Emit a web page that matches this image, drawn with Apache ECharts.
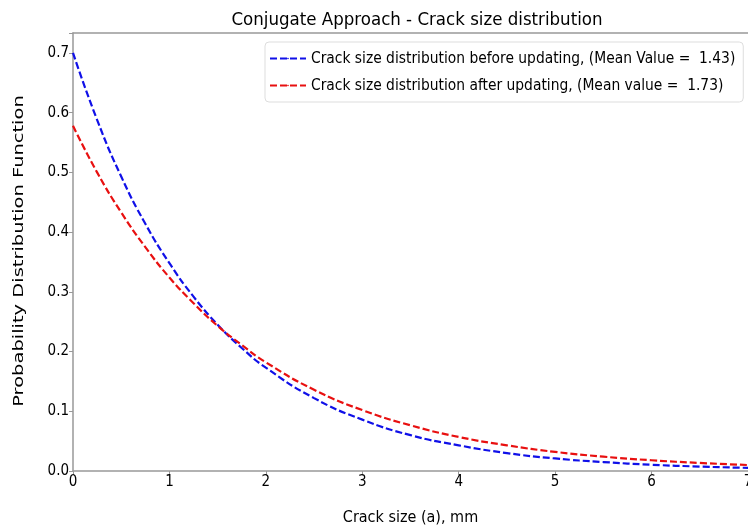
<!DOCTYPE html>
<html><head><meta charset="utf-8">
<script src="https://cdn.jsdelivr.net/npm/echarts@6/dist/echarts.min.js"></script>
<style>html,body{margin:0;padding:0;background:#fff}#c{width:748px;height:530px}</style>
</head><body><div id="c"></div>
<script>
const xValues = [0,0.25,0.5,0.75,1,1.25,1.5,1.75,2,2.5,3,3.5,4,4.5,5,5.5,6,6.5,7];
const beforeValues = [0.700,0.588,0.493,0.414,0.348,0.292,0.245,0.206,0.173,0.122,0.086,0.060,0.043,0.030,0.021,0.015,0.0105,0.0074,0.0052];
const afterValues  = [0.578,0.500,0.433,0.375,0.324,0.281,0.243,0.211,0.182,0.136,0.102,0.0765,0.057,0.043,0.032,0.024,0.018,0.0135,0.010];
const seriesNames = ['Crack size distribution before updating, (Mean Value =  1.43)','Crack size distribution after updating, (Mean value =  1.73)'];
const xTicks = [0,1,2,3,4,5,6,7];
const yTicks = [0.0,0.1,0.2,0.3,0.4,0.5,0.6,0.7];
const yTitle = 'Probability Distribution Function';
const FN = "'Liberation Sans Narrow','DejaVu Sans Condensed','Liberation Sans',sans-serif";
const chart = echarts.init(document.getElementById('c'));
const mk = arr => xValues.map((x,i)=>[x,arr[i]]);
chart.setOption({
  animation:false,
  title:{text:'Conjugate Approach - Crack size distribution',left:412,textAlign:'center',top:6,textStyle:{fontFamily:FN,fontSize:18.5,fontWeight:'normal',color:'#000'}},
  grid:{left:73,top:33,right:0,bottom:59,outerBoundsMode:'none',containLabel:false},
  legend:{orient:'vertical',left:265,top:42,itemWidth:36,itemHeight:2,itemGap:12,padding:[9,8,9,4],
    backgroundColor:'#fff',borderColor:'#ddd',borderWidth:1,borderRadius:4,
    textStyle:{fontFamily:FN,fontSize:15.4,color:'#000'},data:seriesNames},
  graphic:[{type:'text',x:19,y:251,rotation:Math.PI/2,scaleX:1.39,scaleY:1,
    style:{text:yTitle,font:"14px 'DejaVu Sans',sans-serif",fill:'#000',align:'center',verticalAlign:'middle'}}],
  xAxis:[{type:'value',min:0,max:7,interval:1,
    name:'Crack size (a), mm',nameLocation:'middle',nameGap:39,nameTextStyle:{fontFamily:FN,fontSize:16,color:'#000'},
    axisLine:{lineStyle:{color:'#999',width:1.5}},axisTick:{inside:false,length:4,lineStyle:{color:'#999'}},
    axisLabel:{fontFamily:FN,fontSize:15,color:'#000',margin:4,showMaxLabel:true},splitLine:{show:false}},
    {type:'value',position:'top',min:0,max:7,interval:1,axisLine:{show:true,onZero:false,lineStyle:{color:'#999',width:1.5}},
    axisTick:{show:false},axisLabel:{show:false},splitLine:{show:false}}],
  yAxis:{type:'value',min:0,max:0.7334,interval:0.1,
    axisLine:{show:true,lineStyle:{color:'#999',width:1.5}},axisTick:{show:true,inside:false,length:4,lineStyle:{color:'#999'}},
    axisLabel:{fontFamily:FN,fontSize:15,color:'#000',margin:4,formatter:v=>{const t=yTicks.find(k=>Math.abs(k-v)<1e-6);return t===undefined?'':t.toFixed(1);}},
    splitLine:{show:false}},
  series:[
    {name:seriesNames[0],type:'line',xAxisIndex:0,data:mk(beforeValues),smooth:true,symbol:'none',color:'#1010e8',lineStyle:{color:'#1010e8',width:2.2,type:[7,3]}},
    {name:seriesNames[1],type:'line',xAxisIndex:0,data:mk(afterValues),smooth:true,symbol:'none',color:'#e81010',lineStyle:{color:'#e81010',width:2.2,type:[7,3]}}
  ]
});
</script></body></html>
